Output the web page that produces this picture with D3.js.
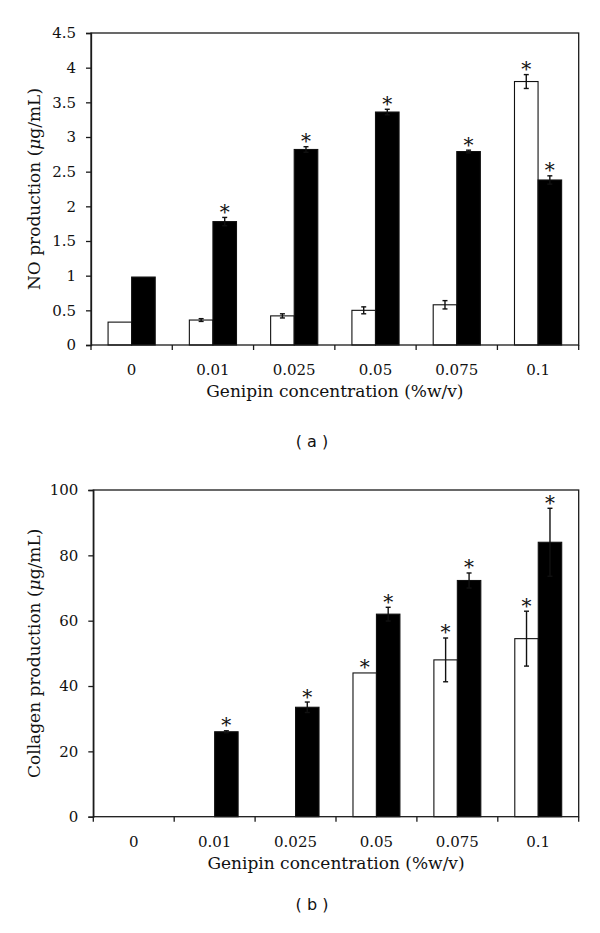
<!DOCTYPE html>
<html><head><meta charset="utf-8">
<script src="https://cdn.jsdelivr.net/npm/d3@7"></script>
<style>
html,body{margin:0;padding:0;background:#fff;}
svg{display:block;}
</style></head>
<body>
<svg id="chart" width="600" height="933"></svg>
<script>
// ---- data ----
const categories = ["0", "0.01", "0.025", "0.05", "0.075", "0.1"];

const noWhite      = [0.33, 0.36, 0.42, 0.50, 0.58, 3.80];
const noWhiteErr   = [0, 0.02, 0.03, 0.05, 0.06, 0.10];
const noWhiteSig   = [false, false, false, false, false, true];
const noBlack      = [0.98, 1.78, 2.82, 3.36, 2.79, 2.38];
const noBlackErr   = [0, 0.06, 0.04, 0.04, 0.02, 0.06];
const noBlackSig   = [false, true, true, true, true, true];
const noTicks      = [0, 0.5, 1, 1.5, 2, 2.5, 3, 3.5, 4, 4.5];
const noTickLabels = ["0", "0.5", "1", "1.5", "2", "2.5", "3", "3.5", "4", "4.5"];

const colWhite      = [0, 0, 0, 44, 48, 54.5];
const colWhiteErr   = [0, 0, 0, 0, 6.7, 8.4];
const colWhiteSig   = [false, false, false, true, true, true];
const colBlack      = [0, 26, 33.5, 62, 72.3, 84];
const colBlackErr   = [0, 0.3, 1.6, 2.1, 2.3, 10.4];
const colBlackSig   = [false, true, true, true, true, true];
const colTicks      = [0, 20, 40, 60, 80, 100];
const colTickLabels = ["0", "20", "40", "60", "80", "100"];

const xTitle = "Genipin concentration (%w/v)";

// ---- drawing ----
const svg = d3.select("#chart");
const SERIF = "DejaVu Serif, Liberation Serif, serif";
const AX = "#1a1a1a";

function drawPanel(o) {
  const g = svg.append("g");
  const x = d3.scaleBand().domain(categories).range([o.left, o.right]).padding(0);
  const y = d3.scaleLinear().domain([0, o.yMax]).range([o.bottom, o.top]);
  const bw = x.bandwidth();
  const x1 = d3.scaleBand().domain(["w", "b"]).range([bw * 0.21, bw * 0.79]).padding(0);

  const rows = categories.map((c, i) => ({
    c, i,
    series: [
      {k: "w", v: o.white[i], e: o.whiteErr[i], s: o.whiteSig[i]},
      {k: "b", v: o.black[i], e: o.blackErr[i], s: o.blackSig[i]}
    ]
  }));

  // bars
  const groups = g.selectAll("g.cat").data(rows).join("g")
    .attr("transform", d => `translate(${x(d.c)},0)`);
  groups.selectAll("rect").data(d => d.series.filter(s => s.v > 0)).join("rect")
    .attr("x", s => x1(s.k))
    .attr("width", x1.bandwidth())
    .attr("y", s => y(s.v))
    .attr("height", s => y(0) - y(s.v))
    .attr("fill", s => s.k === "w" ? "#fff" : "#000")
    .attr("stroke", "#111")
    .attr("stroke-width", 1.1);

  // error bars
  const errs = groups.selectAll("g.err").data(d => d.series.filter(s => s.e > 0)).join("g")
    .attr("class", "err");
  const cx = s => x1(s.k) + x1.bandwidth() / 2;
  errs.append("line").attr("x1", cx).attr("x2", cx)
    .attr("y1", s => y(s.v + s.e)).attr("y2", s => y(s.v - s.e))
    .attr("stroke", "#111").attr("stroke-width", 1.4);
  errs.append("line").attr("x1", s => cx(s) - 2.5).attr("x2", s => cx(s) + 2.5)
    .attr("y1", s => y(s.v + s.e)).attr("y2", s => y(s.v + s.e))
    .attr("stroke", "#111").attr("stroke-width", 1.4);
  errs.append("line").attr("x1", s => cx(s) - 2.5).attr("x2", s => cx(s) + 2.5)
    .attr("y1", s => y(s.v - s.e)).attr("y2", s => y(s.v - s.e))
    .attr("stroke", "#111").attr("stroke-width", 1.4);

  // asterisks
  groups.selectAll("text.sig").data(d => d.series.filter(s => s.s)).join("text")
    .attr("class", "sig")
    .attr("x", cx)
    .attr("y", s => y(s.v + s.e) + 1.5)
    .attr("text-anchor", "middle")
    .style("font-family", SERIF).style("font-size", "20px").attr("fill", "#111")
    .text("*");

  // frame
  g.append("rect").attr("x", o.left).attr("y", o.top)
    .attr("width", o.right - o.left).attr("height", o.bottom - o.top)
    .attr("fill", "none").attr("stroke", AX).attr("stroke-width", 1.3);

  // y axis
  const yAxis = d3.axisLeft(y).tickValues(o.ticks)
    .tickFormat((d, i) => o.tickLabels[i]).tickSize(5).tickPadding(10);
  const ya = g.append("g").attr("transform", `translate(${o.left},0)`).call(yAxis);
  ya.attr("font-family", null).attr("font-size", null);
  ya.select(".domain").attr("stroke", AX).attr("stroke-width", 1.3);
  ya.selectAll(".tick line").attr("stroke", AX).attr("stroke-width", 1.3);
  ya.selectAll(".tick text").style("font-family", SERIF).style("font-size", "15px").attr("fill", "#111");

  // x axis: ticks at category boundaries, labels at centers
  const bounds = categories.map(c => x(c)).concat([x.range()[1]]);
  g.append("g").selectAll("line").data(bounds).join("line")
    .attr("x1", d => d).attr("x2", d => d)
    .attr("y1", o.bottom).attr("y2", o.bottom + 5)
    .attr("stroke", AX).attr("stroke-width", 1.3);
  g.append("g").selectAll("text").data(categories).join("text")
    .attr("x", c => x(c) + bw / 2)
    .attr("y", o.bottom + 30)
    .attr("text-anchor", "middle")
    .style("font-family", SERIF).style("font-size", "15px").attr("fill", "#111")
    .text(c => c);

  // axis titles
  g.append("text")
    .attr("x", (o.left + o.right) / 2)
    .attr("y", o.bottom + 52)
    .attr("text-anchor", "middle")
    .style("font-family", SERIF).style("font-size", "17px").attr("fill", "#111")
    .text(xTitle);
  const yt = g.append("text")
    .attr("transform", `translate(${o.yTitleX},${(o.top + o.bottom) / 2 + o.yTitleDy}) rotate(-90)`)
    .attr("text-anchor", "middle")
    .style("font-family", SERIF).style("font-size", "17px").attr("fill", "#111");
  yt.append("tspan").text(o.yTitleA);
  yt.append("tspan").attr("font-style", "italic").text("\u03BC");
  yt.append("tspan").text("g/mL)");

  // panel letter
  g.append("text")
    .attr("x", 312).attr("y", o.letterY)
    .attr("text-anchor", "middle")
    .style("font-family", "DejaVu Sans, sans-serif").style("font-size", "16px").attr("fill", "#111")
    .text(o.letter);
}

drawPanel({
  left: 91, right: 578.7, top: 33, bottom: 345, yMax: 4.5,
  white: noWhite, whiteErr: noWhiteErr, whiteSig: noWhiteSig,
  black: noBlack, blackErr: noBlackErr, blackSig: noBlackSig,
  ticks: noTicks, tickLabels: noTickLabels,
  yTitleA: "NO production (", yTitleX: 40, yTitleDy: 0,
  letter: "( a )", letterY: 447
});

drawPanel({
  left: 93.3, right: 578.7, top: 490, bottom: 816.7, yMax: 100,
  white: colWhite, whiteErr: colWhiteErr, whiteSig: colWhiteSig,
  black: colBlack, blackErr: colBlackErr, blackSig: colBlackSig,
  ticks: colTicks, tickLabels: colTickLabels,
  yTitleA: "Collagen production (", yTitleX: 40, yTitleDy: 0,
  letter: "( b )", letterY: 910
});
</script>
</body></html>
